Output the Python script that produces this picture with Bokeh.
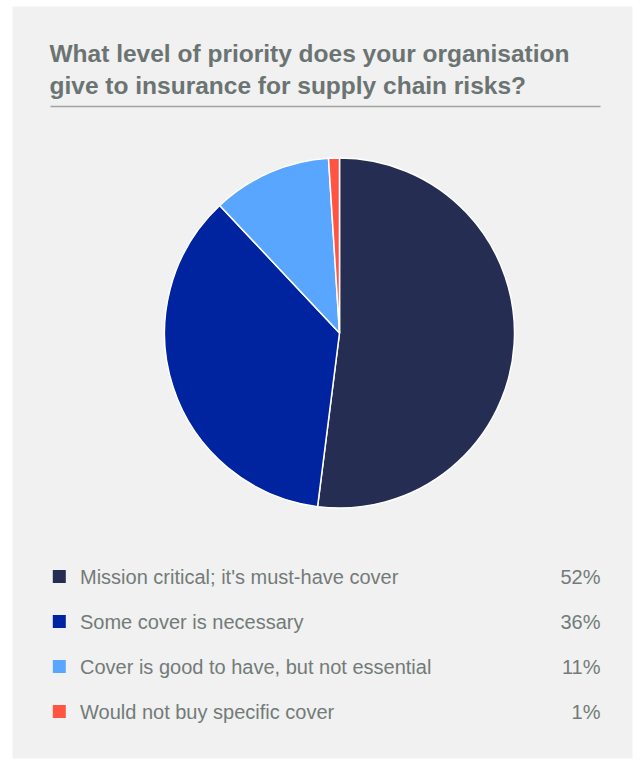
import math
from bokeh.plotting import figure
from bokeh.models import Range1d, ColumnDataSource
from bokeh.core.properties import value
from bokeh.embed import file_html
from bokeh.resources import INLINE

title_lines = ["What level of priority does your organisation",
               "give to insurance for supply chain risks?"]
categories = ["Mission critical; it's must-have cover",
              "Some cover is necessary",
              "Cover is good to have, but not essential",
              "Would not buy specific cover"]
values = [52, 36, 11, 1]
colors = ["#262d52", "#0023a0", "#58a6ff", "#ff5542"]

W, H = 644, 762
p = figure(width=W, height=H, x_range=Range1d(0, W), y_range=Range1d(0, H),
           output_backend="svg", toolbar_location=None, min_border=0)
p.axis.visible = False
p.grid.visible = False
p.outline_line_color = None
p.background_fill_color = "white"
p.border_fill_color = "white"

def Y(y):
    return H - y

# panel
p.quad(left=[12], right=[632], top=[Y(6)], bottom=[Y(758)],
       fill_color="#f0f1f0", line_color=None)

# title
FONT = value("Liberation Sans")
p.text(x=[49, 49], y=[Y(53), Y(85)], text=title_lines, text_font=FONT,
       text_font_size="24.5px", text_font_style="bold", text_color="#6b7472",
       text_baseline="middle", text_align="left")
p.segment(x0=[50], y0=[Y(106)], x1=[600], y1=[Y(106)],
          line_color="#9ea3a1", line_width=1.5)

# pie
total = sum(values)
starts, ends = [], []
acc = 0
for v in values:
    a0 = math.pi / 2 - 2 * math.pi * acc / total
    acc += v
    a1 = math.pi / 2 - 2 * math.pi * acc / total
    starts.append(a1)
    ends.append(a0)
src = ColumnDataSource(dict(start=starts, end=ends, color=colors))
p.wedge(x=339, y=Y(332.5), radius=175, start_angle="start", end_angle="end",
        fill_color="color", line_color="white", line_width=1.5, source=src)

# legend
rows = [576, 621, 666, 711]
ys = [Y(r) for r in rows]
p.rect(x=[58.8] * 4, y=ys, width=13, height=13, fill_color=colors, line_color=None)
p.text(x=[79.5] * 4, y=ys, text=categories, text_font=FONT, text_font_size="20px",
       text_color="#737b79", text_baseline="middle", text_align="left")
p.text(x=[600] * 4, y=ys, text=[f"{v}%" for v in values], text_font=FONT,
       text_font_size="20px", text_color="#737b79", text_baseline="middle",
       text_align="right")

open("out.html", "w").write(file_html(p, INLINE))
